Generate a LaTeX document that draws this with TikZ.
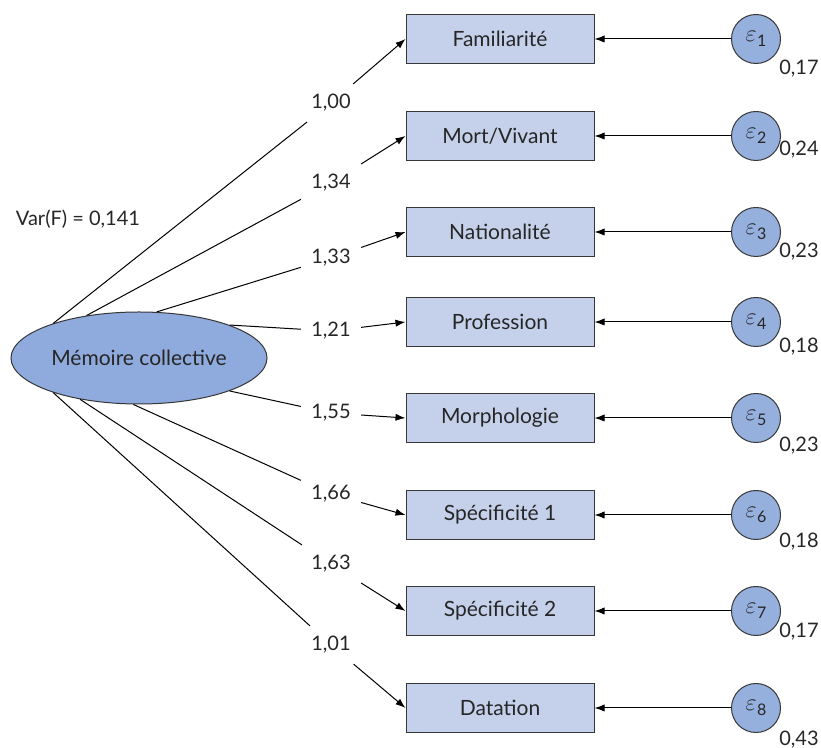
\documentclass[tikz,border=0pt]{standalone}
\usepackage{fontspec}
\setmainfont{Lato}
\usetikzlibrary{arrows.meta,shapes.geometric}
\definecolor{factfill}{RGB}{143,170,220}
\definecolor{itemfill}{RGB}{197,209,235}
\definecolor{errfill}{RGB}{150,176,222}
\definecolor{edgegray}{RGB}{55,55,55}
\newcommand{\errlabel}[1]{$\varepsilon$\kern0.3pt\raisebox{-2.5pt}{\fontsize{8}{9}\selectfont#1}}
\tikzset{
  item/.style={draw=edgegray,fill=itemfill,minimum width=94pt,minimum height=24.5pt,inner sep=0pt,font=\fontsize{10.5}{12}\selectfont},
  err/.style={circle,draw=edgegray,fill=errfill,minimum size=24.5pt,inner sep=0pt,font=\fontsize{12}{14}\selectfont},
  coef/.style={inner sep=5pt},
  arr/.style={-{Latex[length=5pt,width=3.6pt]}},
}
\begin{document}
\begin{tikzpicture}[x=0.5pt,y=-0.5pt,font=\fontsize{10}{12}\selectfont,text=black!85,line width=0.5pt]
\useasboundingbox (0,0) rectangle (821,748);
\node[ellipse,draw=edgegray,fill=factfill,minimum width=128pt,minimum height=46pt,inner sep=0pt,font=\fontsize{10.5}{12}\selectfont] (MC) at (139,358) {Mémoire collective}; % the factor
\node (VarF) at (78,219) {Var(F) = 0,141};
\foreach \i/\y/\name/\coef/\ang/\ly/\var/\vy in {
  1/39/{Familiarité}/{1,00}/158/103/{0,17}/69,
  2/136/{Mort/Vivant}/{1,34}/141/183/{0,24}/150,
  3/232/{Nationalité}/{1,33}/69/258/{0,23}/252,
  4/322/{Profession}/{1,21}/20/331/{0,18}/347,
  5/418/{Morphologie}/{1,55}/340/413/{0,23}/446,
  6/515/{Spécificité 1}/{1,66}/263/494/{0,18}/542,
  7/611/{Spécificité 2}/{1,63}/215/564/{0,17}/632,
  8/708/{Datation}/{1,01}/202/645/{0,43}/740}
{
  \node[item] (B\i) at (500,\y) {\name};
  \node[err] (E\i) at (756,\y) {\errlabel{\i}};
  \node (V\i) at (799,\vy) {\var};
  \node[coef] (L\i) at (331,\ly) {\coef};
  \draw (MC.\ang) -- (L\i);
  \draw[arr] (L\i) -- (B\i.west);
  \draw[arr] (E\i) -- (B\i.east);
}
\end{tikzpicture}
\end{document}
